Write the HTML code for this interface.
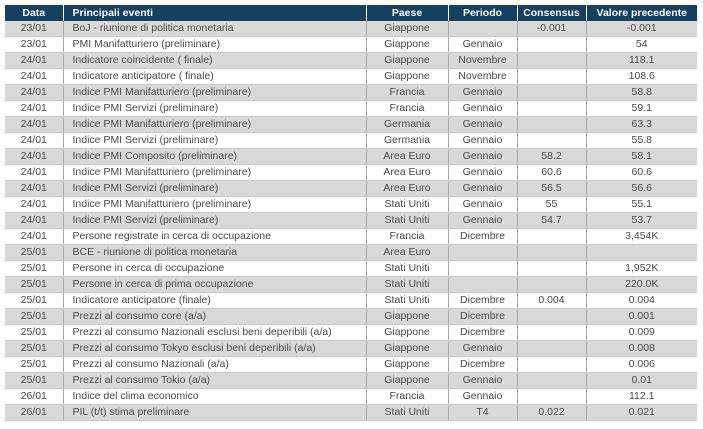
<!DOCTYPE html>
<html><head><meta charset="utf-8"><style>
html,body{margin:0;padding:0;background:#fff;width:703px;height:429px;overflow:hidden}
table{position:absolute;left:5px;top:5px;border-collapse:collapse;width:692px;table-layout:fixed;font-family:"Liberation Sans",sans-serif;font-size:10.5px;color:#4a4a4a}
td,th{height:15px;padding:0;line-height:15px;white-space:nowrap;overflow:hidden;border-right:1px solid #a8a8a8;border-bottom:1px solid #c8c8c8;text-align:center}
th{height:16px;line-height:16px;background:#16405f;color:#fff;font-weight:bold;border-right:1px solid #fff;border-bottom:none;font-size:10.5px}
td:nth-child(2),th:nth-child(2){text-align:left;padding-left:9px}
tr:nth-child(even) td{background:#d9d9d9}
tr:nth-child(odd) td{background:#fff}
td:last-child,th:last-child{border-right:none}
</style></head><body>
<table>
<colgroup><col style="width:58px"><col style="width:303px"><col style="width:82px"><col style="width:69px"><col style="width:69px"><col style="width:111px"></colgroup>
<tr><th>Data</th><th>Principali eventi</th><th>Paese</th><th>Periodo</th><th>Consensus</th><th>Valore precedente</th></tr>
<tr><td>23/01</td><td>BoJ - riunione di politica monetaria</td><td>Giappone</td><td></td><td>-0.001</td><td>-0.001</td></tr>
<tr><td>23/01</td><td>PMI Manifatturiero (preliminare)</td><td>Giappone</td><td>Gennaio</td><td></td><td>54</td></tr>
<tr><td>24/01</td><td>Indicatore coincidente ( finale)</td><td>Giappone</td><td>Novembre</td><td></td><td>118.1</td></tr>
<tr><td>24/01</td><td>Indicatore anticipatore ( finale)</td><td>Giappone</td><td>Novembre</td><td></td><td>108.6</td></tr>
<tr><td>24/01</td><td>Indice PMI Manifatturiero (preliminare)</td><td>Francia</td><td>Gennaio</td><td></td><td>58.8</td></tr>
<tr><td>24/01</td><td>Indice PMI Servizi (preliminare)</td><td>Francia</td><td>Gennaio</td><td></td><td>59.1</td></tr>
<tr><td>24/01</td><td>Indice PMI Manifatturiero (preliminare)</td><td>Germania</td><td>Gennaio</td><td></td><td>63.3</td></tr>
<tr><td>24/01</td><td>Indice PMI Servizi (preliminare)</td><td>Germania</td><td>Gennaio</td><td></td><td>55.8</td></tr>
<tr><td>24/01</td><td>Indice PMI Composito (preliminare)</td><td>Area Euro</td><td>Gennaio</td><td>58.2</td><td>58.1</td></tr>
<tr><td>24/01</td><td>Indice PMI Manifatturiero (preliminare)</td><td>Area Euro</td><td>Gennaio</td><td>60.6</td><td>60.6</td></tr>
<tr><td>24/01</td><td>Indice PMI Servizi (preliminare)</td><td>Area Euro</td><td>Gennaio</td><td>56.5</td><td>56.6</td></tr>
<tr><td>24/01</td><td>Indice PMI Manifatturiero (preliminare)</td><td>Stati Uniti</td><td>Gennaio</td><td>55</td><td>55.1</td></tr>
<tr><td>24/01</td><td>Indice PMI Servizi (preliminare)</td><td>Stati Uniti</td><td>Gennaio</td><td>54.7</td><td>53.7</td></tr>
<tr><td>24/01</td><td>Persone registrate in cerca di occupazione</td><td>Francia</td><td>Dicembre</td><td></td><td>3,454K</td></tr>
<tr><td>25/01</td><td>BCE - riunione di politica monetaria</td><td>Area Euro</td><td></td><td></td><td></td></tr>
<tr><td>25/01</td><td>Persone in cerca di occupazione</td><td>Stati Uniti</td><td></td><td></td><td>1,952K</td></tr>
<tr><td>25/01</td><td>Persone in cerca di prima occupazione</td><td>Stati Uniti</td><td></td><td></td><td>220.0K</td></tr>
<tr><td>25/01</td><td>Indicatore anticipatore (finale)</td><td>Stati Uniti</td><td>Dicembre</td><td>0.004</td><td>0.004</td></tr>
<tr><td>25/01</td><td>Prezzi al consumo core (a/a)</td><td>Giappone</td><td>Dicembre</td><td></td><td>0.001</td></tr>
<tr><td>25/01</td><td>Prezzi al consumo Nazionali esclusi beni deperibili (a/a)</td><td>Giappone</td><td>Dicembre</td><td></td><td>0.009</td></tr>
<tr><td>25/01</td><td>Prezzi al consumo Tokyo esclusi beni deperibili (a/a)</td><td>Giappone</td><td>Gennaio</td><td></td><td>0.008</td></tr>
<tr><td>25/01</td><td>Prezzi al consumo Nazionali (a/a)</td><td>Giappone</td><td>Dicembre</td><td></td><td>0.006</td></tr>
<tr><td>25/01</td><td>Prezzi al consumo Tokio (a/a)</td><td>Giappone</td><td>Gennaio</td><td></td><td>0.01</td></tr>
<tr><td>26/01</td><td>Indice del clima economico</td><td>Francia</td><td>Gennaio</td><td></td><td>112.1</td></tr>
<tr><td>26/01</td><td>PIL (t/t) stima preliminare</td><td>Stati Uniti</td><td>T4</td><td>0.022</td><td>0.021</td></tr>
</table>
</body></html>
